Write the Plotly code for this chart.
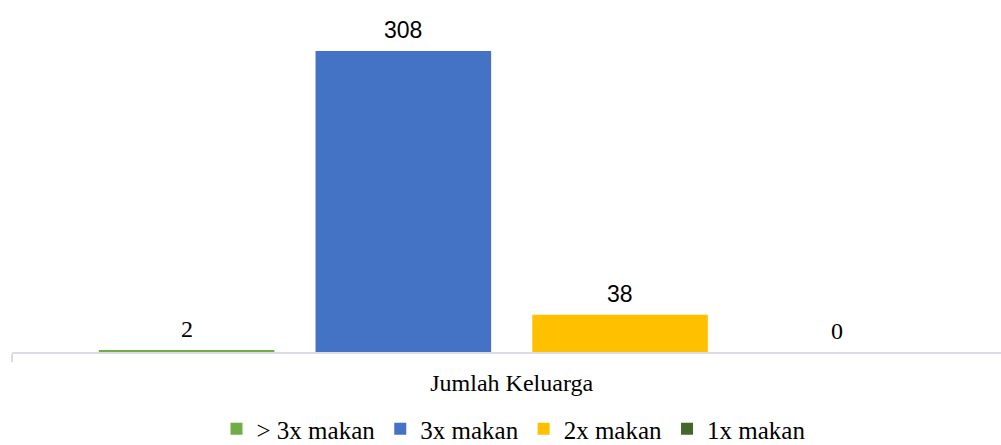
import plotly.graph_objects as go

# Frekuensi makan keluarga per hari
category = ["Jumlah Keluarga"]
series_names = ["> 3x makan", "3x makan", "2x makan", "1x makan"]
series_values = [2, 308, 38, 0]
series_colors = ["#70ad47", "#4472c4", "#ffc000", "#43682b"]
label_fonts = ["Liberation Serif", "Liberation Sans", "Liberation Sans", "Liberation Serif"]

W, H = 1001, 445
M_L, M_R, M_T, M_B = 12, 0, 20, 93
BARGAP, GROUPGAP = 0.1325, 0.19
X_RANGE = [-0.5, 0.4896]
Y_MAX = 339.7

fig = go.Figure()
for name, val, col in zip(series_names, series_values, series_colors):
    fig.add_trace(go.Bar(
        x=category, y=[val], name=name,
        marker=dict(color=col, line=dict(width=0)),
        hoverinfo="skip",
    ))

# value labels above each bar, offset horizontally to its slot in the group
plot_w = W - M_L - M_R
cat_px = plot_w / (X_RANGE[1] - X_RANGE[0])
slot_px = cat_px * (1 - BARGAP) / len(series_values)
n = len(series_values)
for i, (val, fnt) in enumerate(zip(series_values, label_fonts)):
    fig.add_annotation(
        x=category[0], y=val, text=str(val), showarrow=False,
        xshift=(i - (n - 1) / 2) * slot_px, yshift=21, yanchor="middle",
        font=dict(family=fnt, size=23 if "Sans" in fnt else 24, color="#000000"),
    )

fig.update_layout(
    width=W, height=H,
    margin=dict(l=M_L, r=M_R, t=M_T, b=M_B, autoexpand=False),
    paper_bgcolor="white", plot_bgcolor="white",
    barmode="group", bargap=BARGAP, bargroupgap=GROUPGAP,
    showlegend=True,
    legend=dict(
        orientation="h", xref="container", yref="container",
        x=0.513, xanchor="center", y=(H - 429) / H, yanchor="middle",
        font=dict(family="Liberation Serif", size=25, color="#000000"),
        itemwidth=30, traceorder="normal",
    ),
    font=dict(family="Liberation Serif", color="#000000"),
    xaxis=dict(
        type="category", range=X_RANGE, showgrid=False, zeroline=False,
        showline=True, linecolor="#d9dde3", linewidth=1.5,
        ticks="outside", tickson="boundaries", ticklen=8, tickwidth=1.5,
        tickcolor="#d9dde3", ticklabelstandoff=8, automargin=False,
        tickfont=dict(family="Liberation Serif", size=24, color="#000000"),
        fixedrange=True,
    ),
    yaxis=dict(
        range=[0, Y_MAX], visible=False, showgrid=False, zeroline=False,
        fixedrange=True, automargin=False,
    ),
)

fig.write_html("out.html", config={"displayModeBar": False})
